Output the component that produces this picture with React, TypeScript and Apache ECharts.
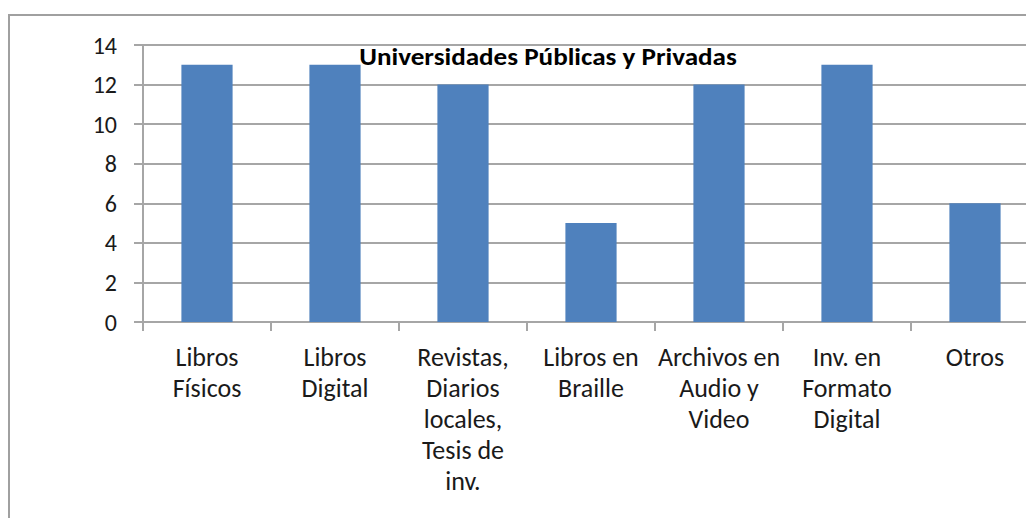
import React, { useEffect, useRef } from "react";
import * as echarts from "echarts";

const categories = [
  "Libros\nFísicos",
  "Libros\nDigital",
  "Revistas,\nDiarios\nlocales,\nTesis de\ninv.",
  "Libros en\nBraille",
  "Archivos en\nAudio y\nVideo",
  "Inv. en\nFormato\nDigital",
  "Otros",
];
const values = [13, 13, 12, 5, 12, 13, 6];
const title = "Universidades Públicas y Privadas";

const FONT = "Carlito, Lato, 'Noto Sans', sans-serif";

export default function App() {
  const ref = useRef<HTMLDivElement>(null);
  useEffect(() => {
    document.body.style.margin = "0";
    const chart = echarts.init(ref.current!, null, { renderer: "svg" });
    chart.setOption({
      animation: false,
      backgroundColor: "#ffffff",
      grid: { left: 143, top: 45, right: 1, bottom: 196, containLabel: false },
      xAxis: {
        type: "category",
        data: categories,
        axisLine: { lineStyle: { color: "#A6A6A6", width: 2 } },
        axisTick: { show: true, length: 9, lineStyle: { color: "#A6A6A6", width: 2 } },
        axisLabel: {
          interval: 0,
          margin: 19,
          fontFamily: FONT,
          fontSize: 26,
          lineHeight: 31,
          color: "#1a1a1a",
          align: "center",
        },
      },
      yAxis: {
        type: "value",
        min: 0,
        max: 14,
        interval: 2,
        axisLine: { show: true, lineStyle: { color: "#A6A6A6", width: 2 } },
        axisTick: { show: true, length: 9, lineStyle: { color: "#A6A6A6", width: 2 } },
        splitLine: { show: true, lineStyle: { color: "#A6A6A6", width: 2 } },
        axisLabel: { margin: 26, fontFamily: FONT, fontSize: 24, color: "#1a1a1a" },
      },
      graphic: [
        {
          type: "rect",
          shape: { x: 9, y: 15, width: 1100, height: 600 },
          style: { fill: "none", stroke: "#A0A0A0", lineWidth: 2 },
          silent: true,
          z: 100,
        },
        {
          type: "text",
          x: 548,
          y: 57,
          scaleX: 1.13,
          z: 101,
          style: {
            text: title,
            fontFamily: FONT,
            fontWeight: "bold",
            fontSize: 24,
            fill: "#000",
            textAlign: "center",
            textVerticalAlign: "middle",
          },
        },
      ],
      series: [
        {
          type: "bar",
          data: values,
          barWidth: "40%",
          itemStyle: { color: "#4F81BD" },
        },
      ],
    });
    return () => chart.dispose();
  }, []);
  return (
    <div style={{ position: "absolute", left: 0, top: 0, width: 1026, height: 518, overflow: "hidden" }}>
      <div ref={ref} style={{ width: 1040, height: 518 }} />
    </div>
  );
}
